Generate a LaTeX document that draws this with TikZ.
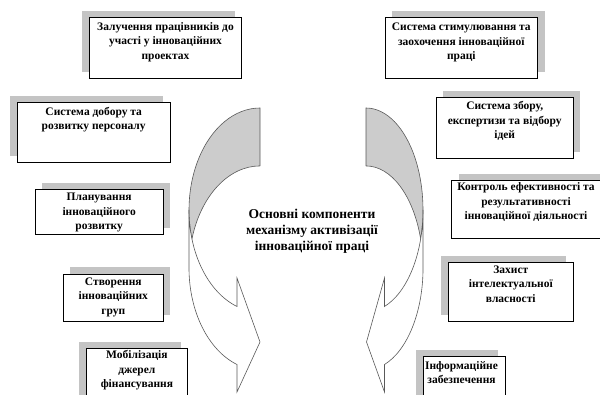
\documentclass[tikz,border=0pt]{standalone}
\usepackage{fontspec}
\setmainfont{Liberation Serif}
\usepackage{tikz}
\usetikzlibrary{shadows,positioning}
\definecolor{tin}{RGB}{196,196,196}
\definecolor{spyna}{RGB}{204,204,204}
\tikzset{
    %Define style for boxes
    blok/.style={
           rectangle,
           draw=black, line width=0.7pt,
           fill=white,
           inner sep=0pt},
    % shadow to the upper left / upper right
    tinL/.style={drop shadow={shadow xshift=-7pt, shadow yshift=6.5pt, fill=tin, opacity=1}},
    tinR/.style={drop shadow={shadow xshift=7pt, shadow yshift=6.5pt, fill=tin, opacity=1}},
    % Define text style
    napys/.style={
           align=center,
           inner sep=0pt,
           font=\bfseries\fontsize{11.5}{14.5}\selectfont},
    % Define curved arrow style
    strilka/.style={
           draw=gray!70!black,
           line width=0.6pt}
}

\begin{document}
\begin{tikzpicture}[x=1pt, y=1pt]
 \useasboundingbox (0,0) rectangle (600,394);
 % curved arrows
 \draw[strilka, fill=spyna] (260,286) arc[start angle=90, end angle=196.5, x radius=71, y radius=102]
   arc[start angle=163.5, end angle=90, x radius=71, y radius=102] -- cycle;
 \draw[strilka, fill=white] (189,184) arc[start angle=180, end angle=251.1, x radius=71, y radius=102]
   -- (237,116) -- (260,52) -- (237,2) -- (237,29.5)
   arc[start angle=251.1, end angle=180, x radius=71, y radius=102] -- cycle;
 \draw[strilka, fill=spyna] (366,286) arc[start angle=90, end angle=-16.5, x radius=57, y radius=102]
   arc[start angle=16.5, end angle=90, x radius=57, y radius=102] -- cycle;
 \draw[strilka, fill=white] (423,184) arc[start angle=0, end angle=-71.1, x radius=57, y radius=102]
   -- (384.5,116) -- (366.5,52) -- (384.5,2) -- (384.5,29.5)
   arc[start angle=-71.1, end angle=0, x radius=57, y radius=102] -- cycle;
 \node[napys, font=\bfseries\fontsize{13.5}{16.2}\selectfont] (osnova) at (312,163)
   {Основні компоненти\\механізму активізації\\інноваційної праці};

 %left boxes
 \node[blok, tinL, minimum width=152.4pt, minimum height=61pt] (zaluch) at (165.5,346.2) {};
 \node[napys] (zaluchT) at ([yshift=5.6pt]zaluch.center) {Залучення працівників до\\участі у інноваційних\\проектах};
 \node[blok, tinL, minimum width=152.7pt, minimum height=60pt] (dobir) at (93.7,261.7) {};
 \node[napys] (dobirT) at ([yshift=12.6pt]dobir.center) {Система добору та\\розвитку персоналу};
 \node[blok, tinR, minimum width=128.3pt, minimum height=44.7pt] (plan) at (99.2,182.3) {};
 \node[napys] (planT) at ([yshift=-1pt]plan.center) {Планування\\інноваційного\\розвитку};
 \node[blok, tinR, minimum width=100pt, minimum height=47.7pt] (grupy) at (113.3,96.2) {};
 \node[napys] (grupyT) at ([yshift=0.6pt]grupy.center) {Створення\\інноваційних\\груп};
 \node[blok, tinL, minimum width=101.7pt, minimum height=61.7pt] (finans) at (136.9,14.8) {};
 \node[napys] (finansT) at ([yshift=8.7pt]finans.center) {Мобілізація\\джерел\\фінансування};

 %right boxes
 \node[blok, tinR, minimum width=152.7pt, minimum height=61pt] (stymul) at (461.3,346.2) {};
 \node[napys] (stymulT) at ([yshift=5pt]stymul.center) {Система стимулювання та\\заохочення інноваційної\\праці};
 \node[blok, tinR, minimum width=137.3pt, minimum height=61pt] (zbir) at (504.7,266.2) {};
 \node[napys] (zbirT) at ([yshift=6.7pt]zbir.center) {Система збору,\\експертизи та відбору\\ідей};
 \node[blok, tinR, minimum width=150.3pt, minimum height=58.3pt] (kontrol) at (526.9,184.8) {};
 \node[napys] (kontrolT) at (526,191.8) {Контроль ефективності та\\результативності\\інноваційної діяльності};
 \node[blok, tinL, minimum width=125pt, minimum height=59pt] (zahyst) at (510.8,101.8) {};
 \node[napys] (zahystT) at ([yshift=8.3pt]zahyst.center) {Захист\\інтелектуальної\\власності};
 \node[blok, tinL, minimum width=81.7pt, minimum height=58.3pt] (inform) at (464.2,8.1) {};
 \node[napys] (informT) at (461.5,21.5) {Інформаційне\\забезпечення};
\end{tikzpicture}
\end{document}
